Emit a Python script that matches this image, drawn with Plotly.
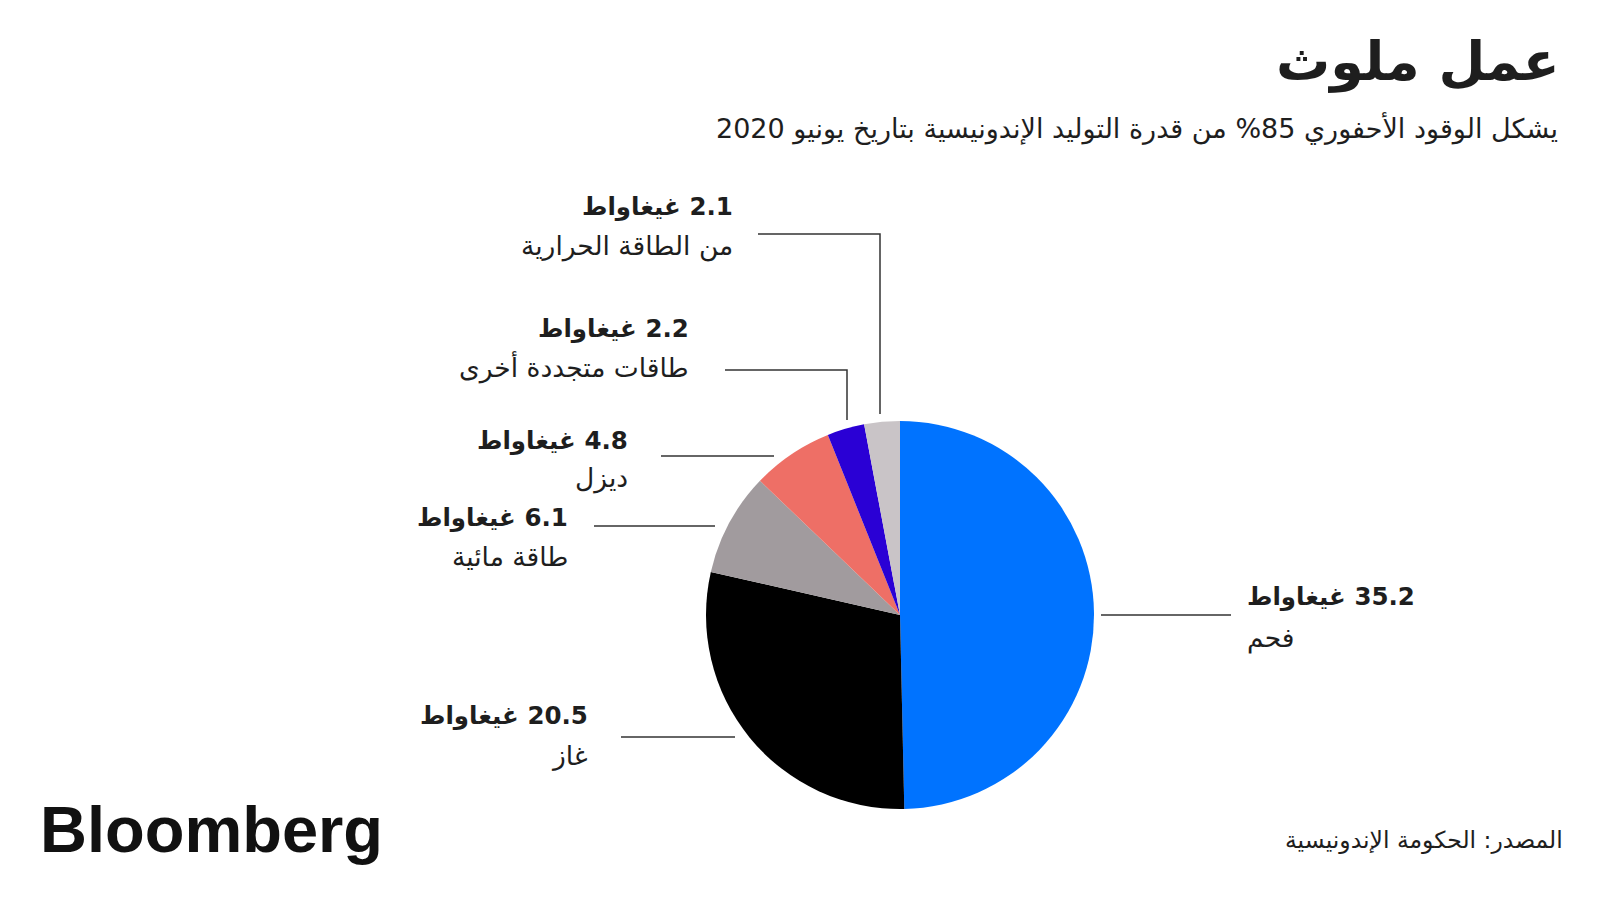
import plotly.graph_objects as go

# ---- data ----
categories = ["فحم", "غاز", "طاقة مائية", "ديزل", "طاقات متجددة أخرى", "من الطاقة الحرارية"]
values_gw = [35.2, 20.5, 6.1, 4.8, 2.2, 2.1]
unit = "غيغاواط"
colors = ["#0073FF", "#000000", "#A19B9E", "#EE6F66", "#2A00D5", "#C9C4C7"]

title = "عمل ملوث"
subtitle = "يشكل الوقود الأحفوري 85% من قدرة التوليد الإندونيسية بتاريخ يونيو 2020"
source = "المصدر: الحكومة الإندونيسية"

W, H = 1600, 900
RLE, PDF = "\u202B", "\u202C"
AR_FONT = "DejaVu Sans, Noto Sans, sans-serif"
TXT = "#1e1e1e"


def rtl(s):
    return RLE + s + PDF


def px(x):
    return x / W


def py(y):
    return 1 - y / H


# pie geometry (pixels): centre and radius
cx, cy, r = 900, 615, 194

fig = go.Figure(go.Pie(
    values=values_gw,
    labels=categories,
    marker=dict(colors=colors, line=dict(width=0)),
    sort=False,
    direction="clockwise",
    rotation=0,
    textinfo="none",
    hoverinfo="label+value",
    showlegend=False,
    domain=dict(x=[px(cx - r), px(cx + r)], y=[py(cy + r), py(cy - r)]),
))

# label placement (pixels): anchor x, xanchor, bold-line y, regular-line y
label_pos = [
    (1245, "left", 597, 638),   # coal
    (590, "right", 716, 755),   # gas
    (570, "right", 518, 556),   # hydro
    (630, "right", 441, 478),   # diesel
    (691, "right", 329, 367),   # other renewables
    (735, "right", 207, 246),   # geothermal
]
leader_lines = [
    [(1101, 615), (1231, 615)],
    [(621, 737), (735, 737)],
    [(594, 526), (715, 526)],
    [(661, 456), (774, 456)],
    [(725, 370), (847, 370), (847, 420)],
    [(758, 234), (880, 234), (880, 414)],
]

annotations = []
shapes = []
for cat, v, (ax, xa, yb, yr), pts in zip(categories, values_gw, label_pos, leader_lines):
    annotations.append(dict(
        x=px(ax), y=py(yb), xref="paper", yref="paper", xanchor=xa, yanchor="middle",
        text="<b>" + rtl(f"{v} {unit}") + "</b>", showarrow=False,
        font=dict(family=AR_FONT, size=24.5, color=TXT), align=xa,
    ))
    annotations.append(dict(
        x=px(ax), y=py(yr), xref="paper", yref="paper", xanchor=xa, yanchor="middle",
        text=rtl(cat), showarrow=False,
        font=dict(family=AR_FONT, size=26.5, color=TXT), align=xa,
    ))
    path = "M " + " L ".join(f"{px(x)},{py(y)}" for x, y in pts)
    shapes.append(dict(type="path", xref="paper", yref="paper", path=path,
                       line=dict(color="#333333", width=1.5)))

# title, subtitle, source, logo
annotations += [
    dict(x=px(1562), y=py(61), xref="paper", yref="paper", xanchor="right", yanchor="middle",
         text="<b>" + rtl(title) + "</b>", showarrow=False,
         font=dict(family=AR_FONT, size=54, color=TXT)),
    dict(x=px(1560), y=py(128), xref="paper", yref="paper", xanchor="right", yanchor="middle",
         text=rtl(subtitle), showarrow=False,
         font=dict(family=AR_FONT, size=27, color=TXT)),
    dict(x=px(1565), y=py(840), xref="paper", yref="paper", xanchor="right", yanchor="middle",
         text=rtl(source), showarrow=False,
         font=dict(family=AR_FONT, size=23.5, color=TXT)),
    dict(x=px(38), y=py(829), xref="paper", yref="paper", xanchor="left", yanchor="middle",
         text="<b>Bloomberg</b>", showarrow=False,
         font=dict(family="Liberation Sans, Arial, sans-serif", size=65, color="#111111")),
]

fig.update_layout(
    width=W, height=H,
    margin=dict(l=0, r=0, t=0, b=0),
    paper_bgcolor="white", plot_bgcolor="white",
    annotations=annotations, shapes=shapes,
)

fig.write_html("out.html", config={"displayModeBar": False})
